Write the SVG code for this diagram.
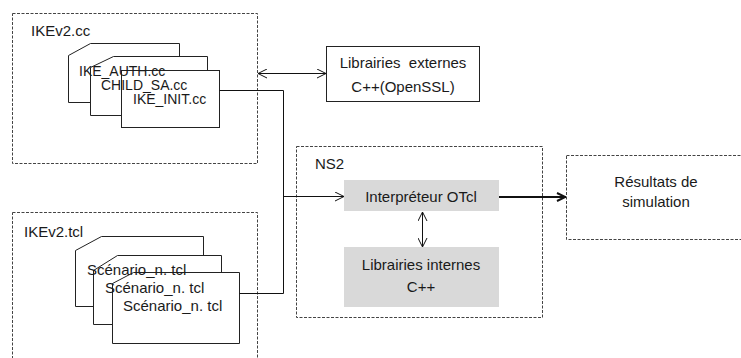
<svg xmlns="http://www.w3.org/2000/svg" width="741" height="358" viewBox="0 0 741 358">
<style>
.t{font-family:"Liberation Sans",Arial,sans-serif;font-size:15px;fill:#1a1a1a}
.s{font-size:14px}
.c{text-anchor:middle}
.dash{fill:none;stroke:#444;stroke-width:1;stroke-dasharray:3,1.5}
.doc{fill:#fff;stroke:#222;stroke-width:1}
.box{fill:#fff;stroke:#222;stroke-width:1}
.gray{fill:#d9d9d9;stroke:none}
.ln{fill:none;stroke:#111;stroke-width:1}
</style>
<defs>
<marker id="arr" viewBox="0 0 10 10" refX="10" refY="5" markerWidth="10" markerHeight="10" markerUnits="userSpaceOnUse" orient="auto-start-reverse">
<path d="M1,0.5 L10,5 L1,9.5" fill="none" stroke="#111" stroke-width="1"/>
</marker>
<marker id="arrB" viewBox="0 0 10 10" refX="10" refY="5" markerWidth="10" markerHeight="10" markerUnits="userSpaceOnUse" orient="auto">
<path d="M1,1 L9.5,5 L1,9" fill="none" stroke="#111" stroke-width="2"/>
</marker>
</defs>
<rect width="741" height="358" fill="#fff"/>

<g id="ikev2cc">
<rect class="dash" x="12.5" y="13.5" width="245" height="150"/>
<text class="t" x="31" y="36">IKEv2.cc</text>
</g>

<g id="ikev2tcl">
<rect class="dash" x="12.5" y="212.5" width="245" height="150"/>
<text class="t" x="24" y="237">IKEv2.tcl</text>
</g>

<g id="ns2">
<rect class="dash" x="296.5" y="146.5" width="246" height="171"/>
<text class="t" x="315" y="169">NS2</text>
</g>

<g id="resultats">
<rect class="dash" x="566.5" y="155.5" width="190" height="84"/>
<text class="t c" x="656" y="187">Résultats de</text>
<text class="t c" x="656" y="207">simulation</text>
</g>

<g id="docs-cc">
<path class="doc" d="M68.5,55.5 L90.5,43.5 L179.5,43.5 L179.5,102.5 L68.5,102.5 Z"/>
<path class="doc" d="M90.5,67.5 L113.5,56.5 L207.5,56.5 L207.5,115.5 L90.5,115.5 Z"/>
<rect class="doc" x="121.5" y="70.5" width="98" height="57"/>
</g>

<g id="docs-tcl">
<path class="doc" d="M75.5,250.5 L101.5,236.5 L203.5,236.5 L203.5,306.5 L75.5,306.5 Z"/>
<path class="doc" d="M93.5,270.5 L117.5,255.5 L221.5,255.5 L221.5,324.5 L93.5,324.5 Z"/>
<path class="doc" d="M112.5,283.5 L133.5,272.5 L239.5,272.5 L239.5,343.5 L112.5,343.5 Z"/>
</g>

<g id="ext-lib">
<rect class="box" x="326.5" y="46.5" width="153" height="55"/>
<text class="t c" x="403" y="68" style="white-space:pre">Librairies  externes</text>
<text class="t c" x="403" y="92">C++(OpenSSL)</text>
</g>

<g id="interp">
<rect class="gray" x="344" y="180" width="155" height="31"/>
<text class="t c" x="421" y="202">Interpréteur OTcl</text>
</g>

<g id="int-lib">
<rect class="gray" x="344" y="247" width="155" height="60"/>
<text class="t c" x="421" y="270">Librairies internes</text>
<text class="t c" x="421" y="292">C++</text>
</g>

<g id="doc-labels">
<text class="t s" x="79" y="76">IKE_AUTH.cc</text>
<text class="t s" x="101" y="90">CHILD_SA.cc</text>
<text class="t s" x="133" y="104">IKE_INIT.cc</text>
<text class="t" x="87" y="275">Scénario_n. tcl</text>
<text class="t" x="105" y="293">Scénario_n. tcl</text>
<text class="t" x="123" y="311">Scénario_n. tcl</text>
</g>

<g id="connectors">
<line class="ln" x1="258" y1="73.5" x2="326" y2="73.5" marker-start="url(#arr)" marker-end="url(#arr)"/>
<polyline class="ln" points="219.5,90.5 283.5,90.5 283.5,293.5 239.5,293.5"/>
<line class="ln" x1="283.5" y1="196.5" x2="344" y2="196.5" marker-end="url(#arr)"/>
<line class="ln" x1="422.5" y1="212" x2="422.5" y2="247" marker-start="url(#arr)" marker-end="url(#arr)"/>
<line x1="499" y1="197" x2="566" y2="197" stroke="#111" stroke-width="2" marker-end="url(#arrB)"/>
</g>
</svg>
